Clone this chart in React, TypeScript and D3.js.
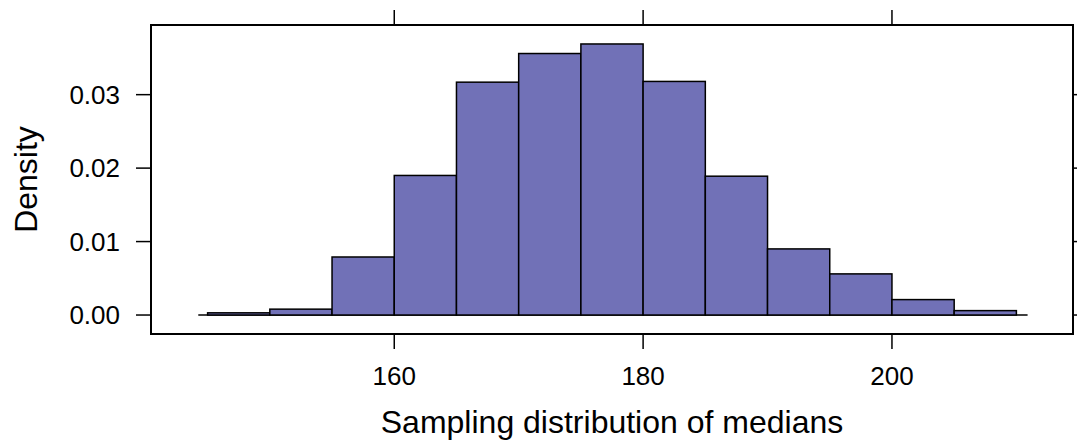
import React from "react";
import * as d3 from "d3";

// histogram of sample medians (bin edges + density per bin)
const breaks = [145, 150, 155, 160, 165, 170, 175, 180, 185, 190, 195, 200, 205, 210];
const densities = [0.0003, 0.0008, 0.0079, 0.019, 0.0317, 0.0356, 0.0369, 0.0318, 0.0189, 0.009, 0.0056, 0.0021, 0.0006];
const xTicks = [160, 180, 200];
const yTicks = [0, 0.01, 0.02, 0.03];
const xLabel = "Sampling distribution of medians";
const yLabel = "Density";

const W = 1077;
const H = 444;
const panel = { left: 151, right: 1073, top: 25, bottom: 334 };
const fill = "#7171B7";
const font = "Liberation Sans, Arial, Helvetica, sans-serif";

const App = () => {
  // lattice pads the data range by 7% on each side
  const xr = breaks[breaks.length - 1] - breaks[0];
  const ymax = d3.max(densities) as number;
  const x = d3
    .scaleLinear()
    .domain([breaks[0] - 0.07 * xr, breaks[breaks.length - 1] + 0.07 * xr])
    .range([panel.left, panel.right]);
  const y = d3
    .scaleLinear()
    .domain([-0.07 * ymax, ymax * 1.07])
    .range([panel.bottom, panel.top]);

  const bins = densities.map((d, i) => ({ x0: breaks[i], x1: breaks[i + 1], d }));
  const tickLen = 15;

  return (
    <svg
      width={W}
      height={H}
      style={{ position: "absolute", left: 0, top: 0, background: "#fff" }}
      fontFamily={font}
    >
      {/* baseline at zero */}
      <line
        x1={x(breaks[0] - 0.75)}
        x2={x(breaks[breaks.length - 1] + 0.9)}
        y1={y(0)}
        y2={y(0)}
        stroke="#000"
        strokeWidth={1.5}
      />
      {bins.map((b, i) => (
        <rect
          key={i}
          x={x(b.x0)}
          width={x(b.x1) - x(b.x0)}
          y={y(b.d)}
          height={y(0) - y(b.d)}
          fill={fill}
          stroke="#000"
          strokeWidth={1.5}
        />
      ))}

      <rect
        x={panel.left}
        y={panel.top}
        width={panel.right - panel.left}
        height={panel.bottom - panel.top}
        fill="none"
        stroke="#000"
        strokeWidth={2}
      />

      {xTicks.map(t => (
        <g key={"x" + t}>
          <line x1={x(t)} x2={x(t)} y1={panel.bottom} y2={panel.bottom + tickLen} stroke="#000" strokeWidth={1.5} />
          <line x1={x(t)} x2={x(t)} y1={panel.top} y2={panel.top - tickLen} stroke="#000" strokeWidth={1.5} />
          <text x={x(t)} y={385} textAnchor="middle" fontSize={26}>
            {t}
          </text>
        </g>
      ))}

      {yTicks.map(t => (
        <g key={"y" + t}>
          <line x1={panel.left} x2={panel.left - tickLen} y1={y(t)} y2={y(t)} stroke="#000" strokeWidth={1.5} />
          <line x1={panel.right} x2={panel.right + tickLen} y1={y(t)} y2={y(t)} stroke="#000" strokeWidth={1.5} />
          <text x={120} y={y(t)} dy="0.35em" textAnchor="end" fontSize={26}>
            {d3.format(".2f")(t)}
          </text>
        </g>
      ))}

      <text x={(panel.left + panel.right) / 2} y={433} textAnchor="middle" fontSize={32}>
        {xLabel}
      </text>
      <text
        transform={`translate(37 ${(panel.top + panel.bottom) / 2}) rotate(-90)`}
        textAnchor="middle"
        fontSize={32}
      >
        {yLabel}
      </text>
    </svg>
  );
};

export default App;
